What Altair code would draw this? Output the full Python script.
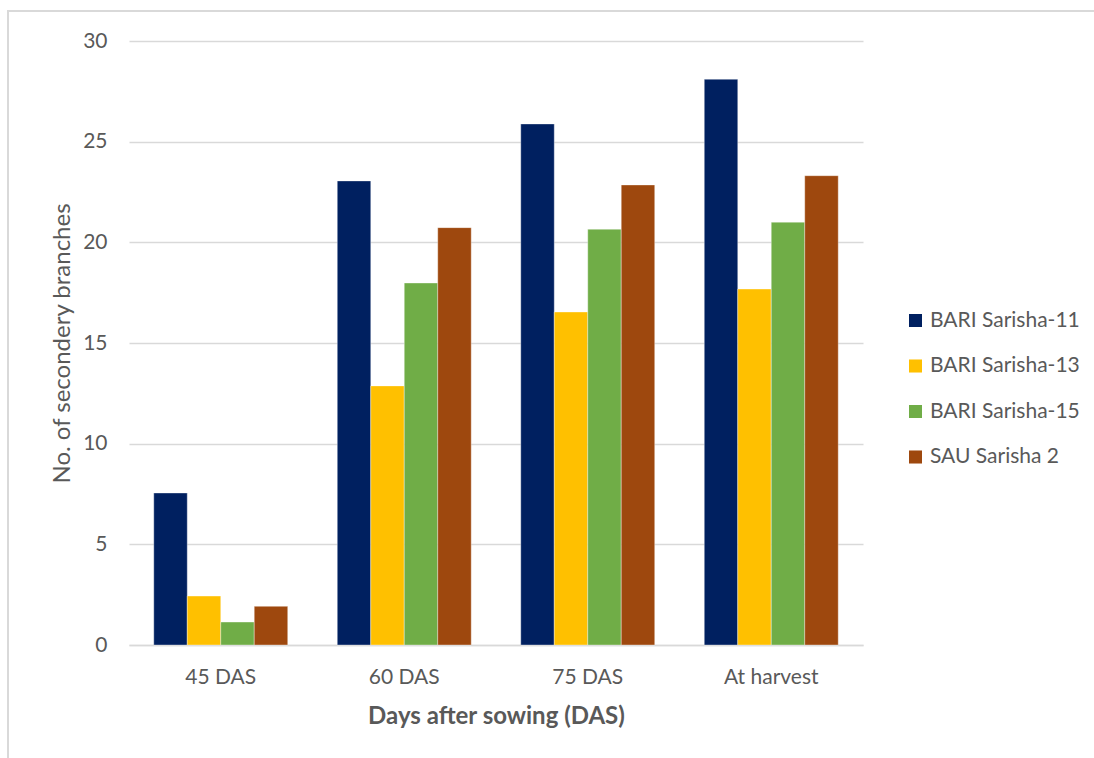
import altair as alt
import pandas as pd

# Secondary branches per plant for four mustard varieties
stages = ["45 DAS", "60 DAS", "75 DAS", "At harvest"]
varieties = ["BARI Sarisha-11", "BARI Sarisha-13", "BARI Sarisha-15", "SAU Sarisha 2"]
bari11 = [7.55, 23.05, 25.88, 28.1]
bari13 = [2.43, 12.87, 16.54, 17.68]
bari15 = [1.14, 17.98, 20.65, 21.0]
sau2 = [1.92, 20.73, 22.85, 23.31]
colors = ["#002060", "#FFC000", "#70AD47", "#9E480E"]

rows = []
for name, vals in zip(varieties, [bari11, bari13, bari15, sau2]):
    for s, v in zip(stages, vals):
        rows.append({"stage": s, "variety": name, "value": v})
df = pd.DataFrame(rows)

FONT = "Lato"
GREY = "#595959"
W, H = 734, 604

bars = alt.Chart(df).mark_bar(stroke="white", strokeWidth=0.6, strokeOpacity=0.6).encode(
    x=alt.X(
        "stage:N",
        sort=stages,
        scale=alt.Scale(paddingInner=0.27, paddingOuter=0.135),
        axis=alt.Axis(
            title="Days after sowing (DAS)",
            labelAngle=0,
            labelFontSize=21,
            labelColor=GREY,
            labelPadding=21,
            ticks=False,
            domain=True,
            domainColor="#d9d9d9",
            domainWidth=1.5,
            titleFontSize=24,
            titleFontWeight="bold",
            titleColor=GREY,
            titlePadding=17,
        ),
    ),
    xOffset=alt.XOffset("variety:N", sort=varieties),
    y=alt.Y(
        "value:Q",
        scale=alt.Scale(domain=[0, 30]),
        axis=alt.Axis(
            title="No. of secondery branches",
            values=[0, 5, 10, 15, 20, 25, 30],
            labelFontSize=21,
            labelColor=GREY,
            labelPadding=22,
            ticks=False,
            domain=False,
            gridColor="#d9d9d9",
            gridWidth=1.5,
            titleFontSize=24,
            titleFontWeight="normal",
            titleColor=GREY,
            titlePadding=8,
        ),
    ),
    color=alt.Color(
        "variety:N",
        sort=varieties,
        scale=alt.Scale(domain=varieties, range=colors),
        legend=alt.Legend(
            title=None,
            orient="none",
            legendX=776,
            legendY=269,
            symbolType="square",
            symbolSize=170,
            symbolStrokeWidth=0,
            labelFontSize=21,
            labelColor=GREY,
            rowPadding=23.5,
            labelOffset=4,
        ),
    ),
)

# Thin frame around the whole figure
frame = alt.Chart(pd.DataFrame({"k": [0]})).mark_rect(
    fill=None, stroke="#d9d9d9", strokeWidth=2
).encode(
    x=alt.value(-121), x2=alt.value(1100), y=alt.value(-30), y2=alt.value(800)
)

chart = (
    alt.layer(frame, bars)
    .properties(
        width=W,
        height=H,
        autosize=alt.AutoSizeParams(type="none"),
        padding={"left": 129, "top": 41, "right": 231, "bottom": 113},
    )
    .configure(font=FONT, background="white")
    .configure_view(stroke=None)
)

chart.save("out.html", embed_options={"renderer": "svg", "actions": False})
